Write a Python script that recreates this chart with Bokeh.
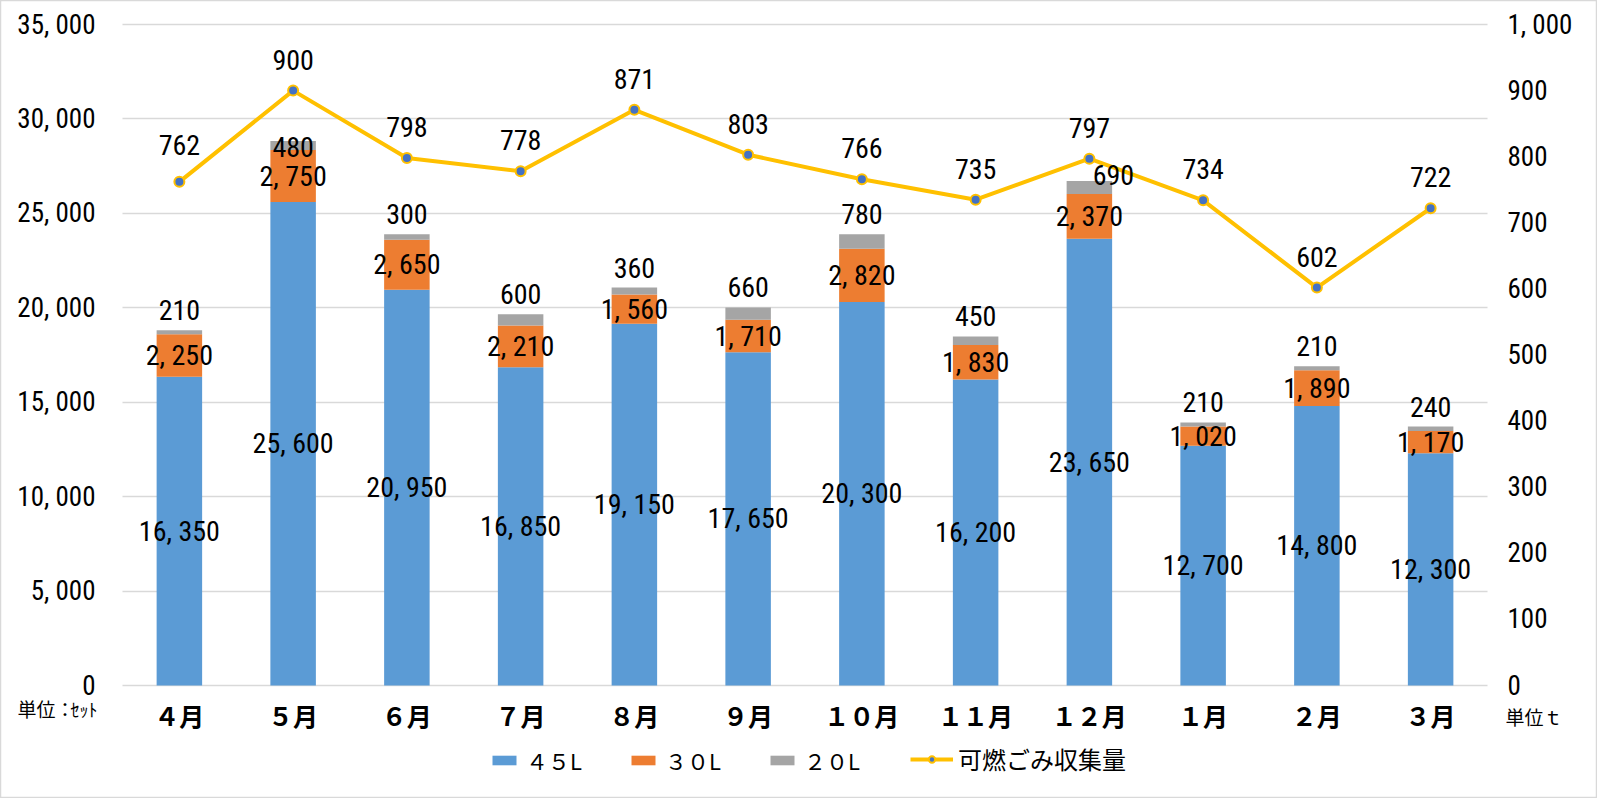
from bokeh.plotting import figure
from bokeh.models import (Range1d, LinearAxis, FixedTicker, ColumnDataSource, Grid,
                          Legend, LegendItem, Label)
from bokeh.embed import file_html
from bokeh.resources import INLINE
from bokeh.core.properties import value

# ---------------- data ----------------
months = ["４月", "５月", "６月", "７月", "８月", "９月", "１０月", "１１月", "１２月", "１月", "２月", "３月"]
s45 = [16350, 25600, 20950, 16850, 19150, 17650, 20300, 16200, 23650, 12700, 14800, 12300]
s30 = [2250, 2750, 2650, 2210, 1560, 1710, 2820, 1830, 2370, 1020, 1890, 1170]
s20 = [210, 480, 300, 600, 360, 660, 780, 450, 690, 210, 210, 240]
total_t = [762, 900, 798, 778, 871, 803, 766, 735, 797, 734, 602, 722]
series_names = ["４５L", "３０L", "２０L"]
line_name = "可燃ごみ収集量"
left_ticks = [0, 5000, 10000, 15000, 20000, 25000, 30000, 35000]
right_ticks = [0, 100, 200, 300, 400, 500, 600, 700, 800, 900, 1000]
unit_left = "単位："
unit_left_small = "ｾｯﾄ"
unit_right = "単位ｔ"

# ---------------- layout / style ----------------
W, H = 1597, 798
PL, PR, PT, PB = 122, 1487, 24, 685      # plot area in page pixels
LMAX, RMAX = left_ticks[-1], right_ticks[-1]
n = len(months)
cw = (PR - PL) / n
x0, x1 = -PL / cw - 0.5, (W - PL) / cw - 0.5
ly0, ly1 = -(H - PB) * LMAX / (PB - PT), PB * LMAX / (PB - PT)
ry0, ry1 = -(H - PB) * RMAX / (PB - PT), PB * RMAX / (PB - PT)

# label nudges in screen pixels (style)
gray_dx = [0, 0, 0, 0, 0, 0, 0, 0, 24, 0, 0, 0]
gray_dy = [-20, 6, -20, -20, -20, -20, -20, -20, -6, -20, -20, -20]
line_dy = [-37, -31, -31, -31, -31, -31, -31, -31, -31, -31, -31, -31]

NUM_FONT = "Noto Sans Condensed, Roboto Condensed, DejaVu Sans Condensed, sans-serif"
JP_FONT = "Noto Sans CJK JP"
colors = ["#5B9BD5", "#ED7D31", "#A5A5A5"]

def fmt(v):
    return f"{v:,}".replace(",", ", ")

xs = list(range(n))
src = ColumnDataSource(dict(
    x=xs, a=s45, b=s30, c=s20, t=total_t,
    mid45=[v / 2 for v in s45],
    mid30=[a + b / 2 for a, b in zip(s45, s30)],
    top=[a + b + c for a, b, c in zip(s45, s30, s20)],
    l45=[fmt(v) for v in s45], l30=[fmt(v) for v in s30], l20=[fmt(v) for v in s20],
    lt=[fmt(v) for v in total_t],
    gdx=gray_dx, gdy=gray_dy, ldy=line_dy,
))

p = figure(width=W, height=H, x_range=Range1d(x0, x1), y_range=Range1d(ly0, ly1),
           x_axis_type=None, y_axis_type=None, min_border=0,
           output_backend="svg", toolbar_location=None,
           background_fill_color="white", border_fill_color="white")
p.outline_line_color = "#D9D9D9"
p.outline_line_width = 1.5
p.extra_y_ranges = {"t": Range1d(ry0, ry1)}

# grid lines
g = Grid(dimension=1, ticker=FixedTicker(ticks=left_ticks),
         grid_line_color="#D9D9D9", grid_line_width=1.5)
if "cross_bounds" in g.properties():
    g.cross_bounds = (-0.5, n - 0.5)
    p.add_layout(g)
else:
    p.segment(x0=[-0.5] * len(left_ticks), x1=[n - 0.5] * len(left_ticks),
              y0=left_ticks, y1=left_ticks, line_color="#D9D9D9", line_width=1.5)

bars = p.vbar_stack(["a", "b", "c"], x="x", width=0.4, source=src, color=colors, line_color=None)

line_r = p.line(x="x", y="t", source=src, y_range_name="t", line_color="#FFC000", line_width=4)
mark_r = p.scatter(x="x", y="t", source=src, y_range_name="t", marker="circle", size=10,
                   fill_color="#4472C4", line_color="#FFC000", line_width=2)

common = dict(text_align="center", text_baseline="middle", text_font=value(NUM_FONT),
              text_font_size="28px", text_color="black")
p.text(x="x", y="mid45", text="l45", source=src, **common)
p.text(x="x", y="mid30", text="l30", source=src, **common)
p.text(x="x", y="top", text="l20", source=src, x_offset="gdx", y_offset="gdy", **common)
p.text(x="x", y="t", text="lt", source=src, y_range_name="t", y_offset="ldy", **common)

# axes (fixed at the plot-area edges)
la = LinearAxis(ticker=FixedTicker(ticks=left_ticks), fixed_location=-0.5,
                major_label_overrides={v: fmt(v) for v in left_ticks})
ra = LinearAxis(y_range_name="t", ticker=FixedTicker(ticks=right_ticks), fixed_location=n - 0.5,
                major_label_overrides={v: fmt(v) for v in right_ticks})
xa = LinearAxis(ticker=FixedTicker(ticks=xs), fixed_location=0,
                major_label_overrides={i: m for i, m in zip(xs, months)})
for ax in (la, ra, xa):
    ax.axis_line_color = None
    ax.major_tick_line_color = None
    ax.minor_tick_line_color = None
    ax.major_label_text_color = "black"
for ax in (la, ra):
    ax.major_label_text_font = NUM_FONT
    ax.major_label_text_font_size = "27px"
la.major_label_standoff = 21
ra.major_label_standoff = 14
xa.major_label_text_font = JP_FONT
xa.major_label_text_font_size = "25px"
xa.major_label_text_font_style = "bold"
xa.major_label_standoff = 5
p.add_layout(la, "left")
p.add_layout(ra, "right")
p.add_layout(xa, "below")

# unit labels
for txt, x, y, size in [(unit_left, 17, H - 708, "19px"),
                        (unit_left_small, 70, H - 708, "18px"),
                        (unit_right, 1505, H - 716, "19px")]:
    p.add_layout(Label(x=x, y=y, x_units="screen", y_units="screen", text=txt,
                       text_font=JP_FONT, text_font_size=size, text_color="black",
                       text_baseline="middle", text_align="left"))

# legends
leg_style = dict(orientation="horizontal", padding=0, margin=0,
                 border_line_color=None, background_fill_alpha=0,
                 label_text_font=JP_FONT, label_text_color="black")
leg1 = Legend(items=[LegendItem(label=nm, renderers=[r]) for nm, r in zip(series_names, bars)],
              location=(489, 22), glyph_width=30, glyph_height=12, label_standoff=7, spacing=46,
              label_text_font_size="22px", **leg_style)
leg2 = Legend(items=[LegendItem(label=line_name, renderers=[line_r, mark_r])],
              location=(910, 22), glyph_width=43, glyph_height=16, label_standoff=5,
              label_text_font_size="24px", **leg_style)
p.add_layout(leg1)
p.add_layout(leg2)

open("out.html", "w").write(file_html(p, INLINE))
